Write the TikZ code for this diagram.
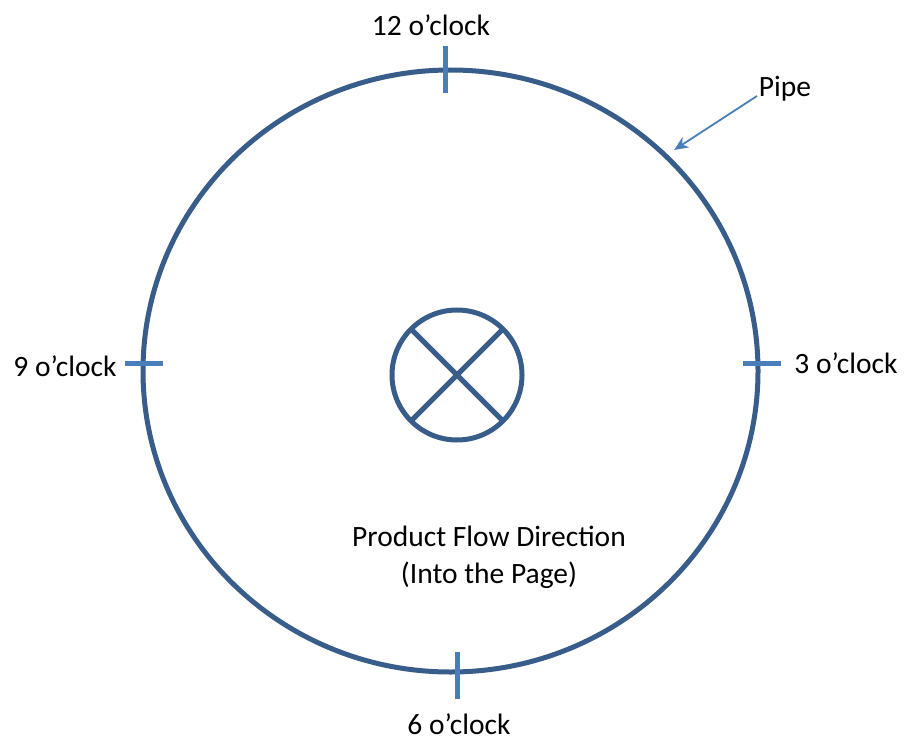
\documentclass[tikz,border=0pt]{standalone}
\usepackage{fontspec}
\setmainfont{Carlito}
\usetikzlibrary{shapes.geometric,arrows.meta}
\definecolor{pipeblue}{HTML}{385D8A}
\definecolor{tickblue}{HTML}{4A7EBB}
\begin{document}
\begin{tikzpicture}[x=1pt,y=-1pt,
  lbl/.style={font=\fontsize{29.5}{35}\selectfont, inner sep=0pt, text=black},
  pipeline/.style={draw=pipeblue, line width=5pt},
  tickmark/.style={draw=tickblue, line width=5pt},
  pointer/.style={draw=tickblue, line width=1.8pt, -{Stealth[length=14pt,width=12pt,inset=4pt]}}]
\useasboundingbox (0,0) rectangle (904,741);
% pipe
\node[pipeline, ellipse, minimum width=615pt, minimum height=602pt, inner sep=0pt, outer sep=0pt] (pipe) at (450.5,371) {};
% ticks
\coordinate (t12a) at (445,46); \coordinate (t12b) at (445,93);
\coordinate (t6a) at (457,652); \coordinate (t6b) at (457,699);
\coordinate (t9a) at (125,363); \coordinate (t9b) at (163,363);
\coordinate (t3a) at (743,363); \coordinate (t3b) at (781,363);
\draw[tickmark] (t12a) -- (t12b);
\draw[tickmark] (t6a) -- (t6b);
\draw[tickmark] (t9a) -- (t9b);
\draw[tickmark] (t3a) -- (t3b);
% labels
\node[lbl] (l12) at (431,25) {12 o’clock};
\node[lbl] (l6) at (459,724) {6 o’clock};
\node[lbl] (l9) at (65,366) {9 o’clock};
\node[lbl] (l3) at (846,363) {3 o’clock};
\node[lbl] (lpipe) at (785,89) {Pipe};
\coordinate (pstart) at (757,96);
\coordinate (ptarget) at (674,150);
\draw[pointer] (pstart) -- (ptarget);
% flow symbol
\node[pipeline, circle, minimum size=130pt, inner sep=0pt, outer sep=0pt] (flow) at (457,375) {};
\draw[pipeline] (flow.north west) -- (flow.south east);
\draw[pipeline] (flow.north east) -- (flow.south west);
\node[lbl, align=center] (ftext) at (489,557) {Product Flow Direction\\[2pt](Into the Page)};
\end{tikzpicture}
\end{document}
